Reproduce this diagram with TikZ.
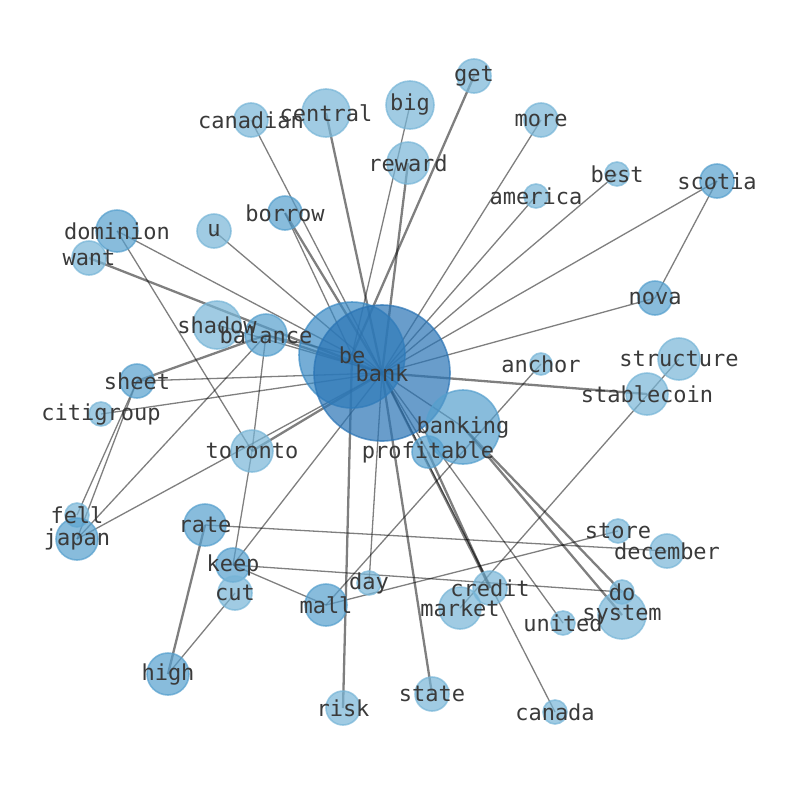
\documentclass[tikz,border=0pt]{standalone}
\usepackage{fontspec}
\setmonofont{DejaVu Sans Mono}
\definecolor{cL}{HTML}{77B5D7}
\definecolor{cM}{HTML}{559FCD}
\definecolor{cBe}{HTML}{3A8AC4}
\definecolor{cBank}{HTML}{2A74B5}
\definecolor{txt}{HTML}{3A3A3A}
\pgfdeclarelayer{edgelayer}
\pgfsetlayers{edgelayer,main}
\tikzset{
  nd/.style={circle, inner sep=0pt, minimum size=#1, fill opacity=0.7, draw opacity=0.7, line width=1.6pt},
  lt/.style={fill=cL, draw=cL},
  md/.style={fill=cM, draw=cM},
  lbl/.style={font=\ttfamily\fontsize{22}{22}\selectfont, text=txt, inner sep=0pt},
  ed/.style={draw=black, draw opacity=0.5, line width=1.3pt},
  edt/.style={draw=black, draw opacity=0.5, line width=2.3pt}
}
\begin{document}
\begin{tikzpicture}[x=1pt,y=-1pt]
\useasboundingbox (0,0) rectangle (794,790);
% circles
\node[nd=106pt, fill=cBe, draw=cBe] (be) at (352,355) {};
\node[nd=136pt, fill=cBank, draw=cBank] (bank) at (382,373) {};
\node[nd=74pt, md] (banking) at (463,427) {};
\node[nd=32pt, md] (profitable) at (428,452) {};
\node[nd=22pt, lt] (anchor) at (541,364) {};
\node[nd=42pt, lt] (structure) at (679,359) {};
\node[nd=42pt, lt] (stablecoin) at (647,394) {};
\node[nd=34pt, md] (nova) at (655,298) {};
\node[nd=34pt, md] (scotia) at (717,181) {};
\node[nd=24pt, lt] (best) at (617,174) {};
\node[nd=24pt, lt] (america) at (536,196) {};
\node[nd=34pt, lt] (more) at (541,120) {};
\node[nd=34pt, lt] (get) at (474,76) {};
\node[nd=48pt, lt] (big) at (410,105) {};
\node[nd=42pt, lt] (reward) at (408,163) {};
\node[nd=48pt, lt] (central) at (326,113) {};
\node[nd=34pt, lt] (canadian) at (251,120) {};
\node[nd=34pt, md] (borrow) at (285,213) {};
\node[nd=34pt, lt] (u) at (214,231) {};
\node[nd=42pt, md] (dominion) at (117,231) {};
\node[nd=34pt, lt] (want) at (89,258) {};
\node[nd=48pt, lt] (shadow) at (217,325) {};
\node[nd=42pt, md] (balance) at (266,335) {};
\node[nd=34pt, md] (sheet) at (137,381) {};
\node[nd=24pt, lt] (citigroup) at (101,414) {};
\node[nd=42pt, lt] (toronto) at (252,451) {};
\node[nd=24pt, lt] (fell) at (77,515) {};
\node[nd=42pt, md] (japan) at (77,539) {};
\node[nd=42pt, md] (rate) at (205,525) {};
\node[nd=34pt, md] (keep) at (233,565) {};
\node[nd=34pt, lt] (cut) at (235,593) {};
\node[nd=42pt, md] (mall) at (326,605) {};
\node[nd=24pt, lt] (day) at (369,583) {};
\node[nd=42pt, md] (high) at (168,674) {};
\node[nd=34pt, lt] (risk) at (343,708) {};
\node[nd=34pt, lt] (state) at (432,694) {};
\node[nd=24pt, lt] (canada) at (555,712) {};
\node[nd=42pt, lt] (market) at (460,608) {};
\node[nd=34pt, lt] (credit) at (490,588) {};
\node[nd=24pt, lt] (united) at (563,623) {};
\node[nd=48pt, lt] (system) at (622,615) {};
\node[nd=24pt, lt] (do) at (622,592) {};
\node[nd=24pt, lt] (store) at (618,531) {};
\node[nd=34pt, lt] (december) at (667,551) {};
% labels
\foreach \n in {be,bank,banking,profitable,anchor,structure,stablecoin,nova,scotia,best,america,more,get,big,reward,central,canadian,borrow,u,dominion,want,shadow,balance,sheet,citigroup,toronto,fell,japan,rate,keep,cut,mall,day,high,risk,state,canada,market,credit,united,system,do,store,december}
  \node[lbl] (l-\n) at (\n) {\n};
% edges
\begin{pgfonlayer}{edgelayer}
\foreach \a/\b in {canadian/bank,big/be,more/bank,america/bank,best/bank,scotia/bank,scotia/nova,nova/bank,anchor/mall,u/bank,dominion/be,dominion/toronto,sheet/bank,citigroup/bank,balance/toronto,japan/balance,japan/sheet,fell/sheet,japan/bank,keep/toronto,keep/bank,keep/mall,keep/do,cut/high,rate/december,store/mall,canada/bank,united/bank,day/bank,structure/market,shadow/bank,balance/be,borrow/be,bank/banking,bank/profitable,be/bank}
  \draw[ed] (\a.center) -- (\b.center);
\foreach \a/\b in {central/bank,reward/bank,get/be,borrow/bank,want/bank,balance/bank,sheet/balance,toronto/bank,stablecoin/bank,rate/high,risk/be,state/bank,credit/bank,banking/system,banking/do,profitable/credit}
  \draw[edt] (\a.center) -- (\b.center);
\end{pgfonlayer}
\end{tikzpicture}
\end{document}
